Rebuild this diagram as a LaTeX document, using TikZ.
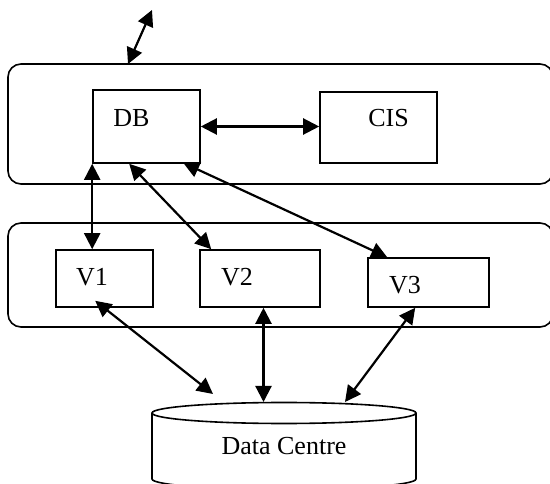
\documentclass[tikz,border=0pt]{standalone}
\usepackage{fontspec}
\setmainfont{Liberation Serif}
\usetikzlibrary{arrows.meta,calc}
\begin{document}
\begin{tikzpicture}[x=1pt,y=-1pt,
  container/.style={draw=black,line width=1.6pt,rounded corners=13pt},
  box/.style={draw=black,line width=1.6pt,inner sep=0pt,rectangle},
  txt/.style={inner sep=0pt,font=\fontsize{26}{30}\selectfont},
  link/.style={line width=2.2pt,{Triangle[length=16pt,width=16pt]}-{Triangle[length=16pt,width=16pt]}}]
\useasboundingbox (0,0) rectangle (550,484);

% two layers
\draw[container] (8,64) rectangle (553,184);
\draw[container] (8,223) rectangle (553,327);
\coordinate (up) at (128,64);
\coordinate (ext) at (152,10);

% upper layer
\node[box,minimum width=107pt,minimum height=73pt] (db) at (146.5,126.5) {};
\node[txt] at (131.5,118.5) {DB};
\node[box,minimum width=117pt,minimum height=71pt] (cis) at (378.5,127.5) {};
\node[txt] at (388.5,118.5) {CIS};

% lower layer
\node[box,minimum width=97pt,minimum height=57pt] (v1) at (104.5,278.5) {};
\node[txt] at (92,277) {V1};
\node[box,minimum width=120pt,minimum height=57pt] (v2) at (260,278.5) {};
\node[txt] at (237,277) {V2};
\node[box,minimum width=121pt,minimum height=49pt] (v3) at (428.5,282.5) {};
\node[txt] at (405,285) {V3};

% data centre store
\draw[line width=1.6pt] (152,413) -- (152,479) arc[start angle=180,end angle=360,x radius=132,y radius=-10.5] -- (416,413);
\draw[line width=1.6pt] (284,413) ellipse[x radius=132,y radius=10.5];
\node[txt] (dc) at (284,446.5) {Data Centre};
\coordinate (dc1) at (213,394);
\coordinate (dc2) at (263.5,402);
\coordinate (dc3) at (345,402);

% connectors
\draw[link] (up) -- (ext);
\draw[link] (db.east) -- (db.east -| cis.west);
\draw[link] (db.south west) -- (db.south west |- v1.north);
\draw[link] ($(db.south west)+(37,0)$) -- ($(v2.north west)+(12,0)$);
\draw[link] ($(db.south west)+(91,-1)$) -- ($(v3.north west)+(20,0)$);
\draw[link] ($(v1.south west)+(40,-7)$) -- (dc1);
\draw[link] (v2.south -| dc2) -- (dc2);
\draw[link] ($(v3.south west)+(48,0)$) -- (dc3);
\end{tikzpicture}
\end{document}
